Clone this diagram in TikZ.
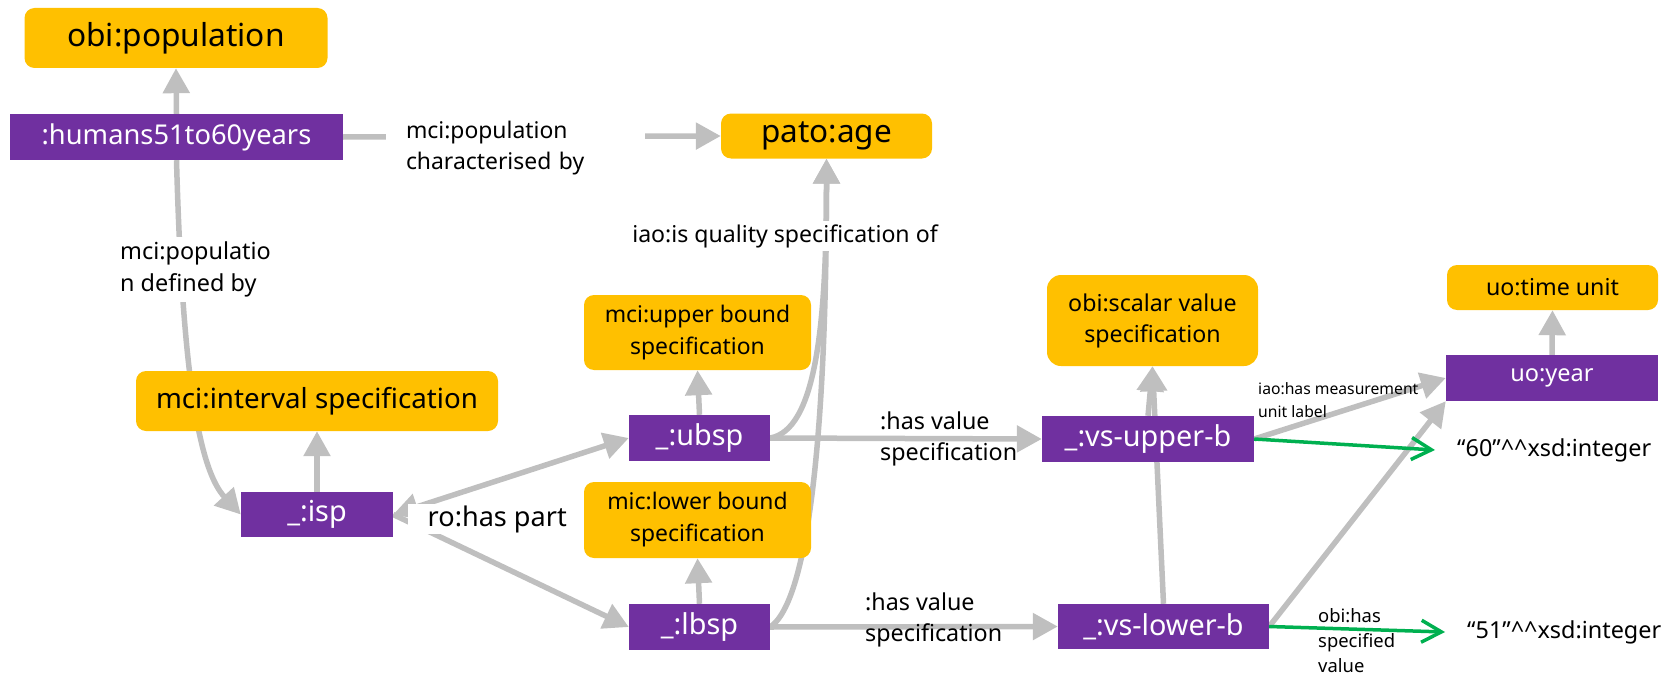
\documentclass[tikz,border=0pt]{standalone}
\usepackage{fontspec}
\setmainfont{Noto Sans}
\usetikzlibrary{arrows.meta}
\pgfdeclarelayer{background}
\pgfsetlayers{background,main}
\definecolor{clsyellow}{HTML}{FFC000}
\definecolor{indpurple}{HTML}{7030A0}
\definecolor{conngray}{HTML}{BFBFBF}
\definecolor{litgreen}{HTML}{00B050}
\newcommand{\fsz}[2]{\fontsize{#1pt}{#2pt}\selectfont}

\begin{document}
\begin{tikzpicture}[x=1pt, y=-1pt,
    >={Triangle[length=25pt,width=26pt]},
    cls/.style={rectangle, rounded corners=10pt, fill=clsyellow, inner sep=0pt, align=center},
    ind/.style={rectangle, fill=indpurple, text=white, inner sep=0pt, font=\fsz{28.8}{34}},
    lbl/.style={inner sep=0pt, align=left},
    conn/.style={draw=conngray, line width=5.5pt, ->},
    litconn/.style={draw=litgreen, line width=3.5pt, -{Straight Barb[length=20pt,width=22pt]}}]
    \useasboundingbox (0,0) rectangle (1676,677);

    % classes and individuals
    \node [cls, minimum width=303pt, minimum height=60pt, font=\fsz{31.7}{38}] (obipop) at (176,38) {obi:population};
    \node [ind, minimum width=333pt, minimum height=46pt, font=\fsz{27.3}{33}] (humans) at (176.5,137) {:humans51to60years};
    \node [cls, minimum width=211pt, minimum height=45pt, font=\fsz{31.5}{38}] (pato) at (826.5,136) {pato:age};
    \node [cls, minimum width=362pt, minimum height=60pt, font=\fsz{27.7}{33}] (interval) at (317,401) {mci:interval specification};
    \node [ind, minimum width=152pt, minimum height=45pt] (isp) at (317,514.5) {\_:isp};
    \node [cls, minimum width=227pt, minimum height=75pt, font=\fsz{22.9}{32}] (upper) at (697.5,332.5) {mci:upper bound\\specification};
    \node [ind, minimum width=141pt, minimum height=46pt] (ubsp) at (699.5,438) {\_:ubsp};
    \node [cls, minimum width=227pt, minimum height=76pt, font=\fsz{22.9}{32}] (lower) at (697.5,520) {mic:lower bound\\specification};
    \node [ind, minimum width=141pt, minimum height=46pt] (lbsp) at (699.5,627) {\_:lbsp};
    \node [cls, minimum width=211pt, minimum height=91pt, rounded corners=14pt, font=\fsz{23.2}{31}] (scalar) at (1152.5,320.5) {obi:scalar value\\specification};
    \node [ind, minimum width=212pt, minimum height=46pt] (vsup) at (1148,439) {\_:vs-upper-b};
    \node [ind, minimum width=211pt, minimum height=45pt] (vslow) at (1163.5,626.5) {\_:vs-lower-b};
    \node [cls, minimum width=211pt, minimum height=45pt, font=\fsz{23.2}{28}] (timeunit) at (1552.5,287.5) {uo:time unit};
    \node [ind, minimum width=212pt, minimum height=46pt, font=\fsz{23.5}{28}] (year) at (1552,378) {uo:year};

    % property labels and literals
    \node [lbl, fill=white, text width=219pt, inner xsep=20pt, inner ysep=3pt, font=\fsz{22.9}{31}] (lblchar) at (515.5,148) {mci:population\\characterised by};
    \node [lbl, fill=white, anchor=west, inner sep=5pt, font=\fsz{23.4}{32}] (lbldef) at (115,269.5) {mci:populatio\\n defined by};
    \node [lbl, fill=white, inner xsep=4pt, inner ysep=3pt, font=\fsz{23.1}{28}] (lblqual) at (785,236) {iao:is quality specification of};
    \node [lbl, fill=white, anchor=west, inner xsep=6pt, inner ysep=1.5pt, font=\fsz{27.1}{32}] (lblpart) at (407.5,519) {\hspace*{14pt}ro:has part};
    \node [lbl, anchor=west, font=\fsz{23.3}{31}] (lblhvu) at (880,439) {:has value\\specification};
    \node [lbl, anchor=west, font=\fsz{23.3}{31}] (lblhvl) at (865,620) {:has value\\specification};
    \node [lbl, anchor=west, font=\fsz{15.7}{23}] (lblunit) at (1258,400) {iao:has measurement\\unit label};
    \node [lbl, anchor=west, font=\fsz{18.4}{25}] (lblspec) at (1318,640.5) {obi:has\\specified\\value};
    \node [lbl, anchor=west, inner xsep=22pt, font=\fsz{23.4}{28}] (lit60) at (1435,450) {“60”\textasciicircum\textasciicircum{}xsd:integer};
    \node [lbl, anchor=west, inner xsep=22pt, font=\fsz{23.4}{28}] (lit51) at (1445,632) {“51”\textasciicircum\textasciicircum{}xsd:integer};

    \begin{pgfonlayer}{background}
        \draw [conn] (humans.north) -- (obipop.south);
        \draw [conn] (humans.east) -- (pato.west);
        \draw [conn] (humans.south) .. controls +(6,220) and +(-41,-44) .. (isp.west);
        \draw [conn] (isp.north) -- (interval.south);
        \draw [conn, <->] (isp.east) -- (ubsp.west);
        \draw [conn] (isp.east) -- (lbsp.west);
        \draw [conn] (ubsp.north) -- (upper.south);
        \draw [conn] (lbsp.north) -- (lower.south);
        \draw [conn] (ubsp.east) .. controls +(45,-8) and +(0,170) .. (pato.south);
        \draw [conn] (lbsp.east) .. controls +(40,-27) and +(0,260) .. (pato.south);
        \draw [conn] (ubsp.east) -- (vsup.west);
        \draw [conn] (lbsp.east) -- (vslow.west);
        \draw [conn] (vslow.north) -- (scalar.south);
        \draw [conn] (vsup.north) -- (scalar.south);
        \draw [conn] (vsup.east) -- (year.west);
        \draw [conn] (vslow.east) -- (year.south west);
        \draw [conn] (year.north) -- (timeunit.south);
        \draw [litconn] (vsup.east) -- (lit60.west);
        \draw [litconn] (vslow.east) -- (lit51.west);
    \end{pgfonlayer}
\end{tikzpicture}
\end{document}
